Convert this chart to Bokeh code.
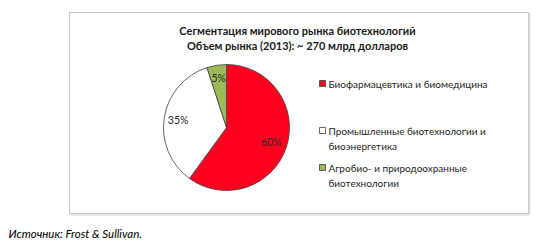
import math
from bokeh.plotting import figure
from bokeh.models import Range1d, ColumnDataSource
from bokeh.core.properties import value
from bokeh.embed import file_html
from bokeh.resources import INLINE

title_lines = ["Сегментация мирового рынка биотехнологий",
               "Объем рынка (2013): ~ 270 млрд долларов"]
categories = ["Биофармацевтика и биомедицина",
              "Промышленные биотехнологии и\nбиоэнергетика",
              "Агробио- и природоохранные\nбиотехнологии"]
shares = [60, 35, 5]
labels = ["60%", "35%", "5%"]
colors = ["#FF0020", "#FFFFFF", "#9BBB59"]
source_note = "Источник: Frost & Sullivan."

W, H = 543, 247
FONT = "Lato"

p = figure(width=W, height=H, output_backend="svg", toolbar_location=None,
           x_range=Range1d(0, W), y_range=Range1d(0, H), min_border=0)
p.axis.visible = False
p.grid.visible = False
p.outline_line_color = None
p.background_fill_color = "white"
p.border_fill_color = "white"

def Y(ys):
    return H - ys

# chart frame with light shadow
p.quad(left=[70], right=[529], top=[Y(13)], bottom=[Y(214)], fill_color=None,
       line_color="#E0E0E0", line_width=2)
p.quad(left=[69], right=[528], top=[Y(12)], bottom=[Y(213)], fill_color="white",
       line_color="#C8C8C8", line_width=1)

# title
p.text(x=[297, 297], y=[Y(30), Y(45)], text=title_lines, text_align="center",
       text_baseline="middle", text_font=value(FONT), text_font_style="bold",
       text_font_size="11px", text_color="#1a1a1a")

# pie
cx, cy, r = 226, Y(127), 63
total = sum(shares)
starts, ends, mids = [], [], []
acc = 0.0
for s in shares:
    a0 = math.pi / 2 - 2 * math.pi * acc / total
    acc += s
    a1 = math.pi / 2 - 2 * math.pi * acc / total
    starts.append(a0)
    ends.append(a1)
    mids.append((a0 + a1) / 2)
src = ColumnDataSource(dict(start=starts, end=ends, color=colors))
p.wedge(x=cx, y=cy, radius=r, radius_units="screen", start_angle="start",
        end_angle="end", direction="clock", fill_color="color",
        line_color="#404040", line_width=0.8, source=src)

lr = [47, 49, 50]
lx = [cx + rr * math.cos(m) for rr, m in zip(lr, mids)]
ly = [cy + rr * math.sin(m) for rr, m in zip(lr, mids)]
p.text(x=lx, y=ly, text=labels, text_align="center", text_baseline="middle",
       text_font=value(FONT), text_font_size="10.5px", text_color="#262626")

# legend
leg_y = [83, 130, 167]
sq = [p.rect(x=[322], y=[Y(yy)], width=6, height=6, width_units="screen",
             height_units="screen", fill_color=c, line_color="#404040",
             line_width=0.8) for c, yy in zip(colors, leg_y)]
for cat, yy in zip(categories, leg_y):
    p.text(x=[328], y=[Y(yy - 6)], text=[cat], text_align="left",
           text_baseline="top", text_font=value(FONT), text_font_size="10px",
           text_color="#262626", text_line_height=1.3)

# source
p.text(x=[8], y=[Y(233)], text=[source_note], text_align="left",
       text_baseline="middle", text_font=value(FONT), text_font_style="italic",
       text_font_size="11.5px", text_color="#000000")

open("out.html", "w").write(file_html(p, INLINE))
